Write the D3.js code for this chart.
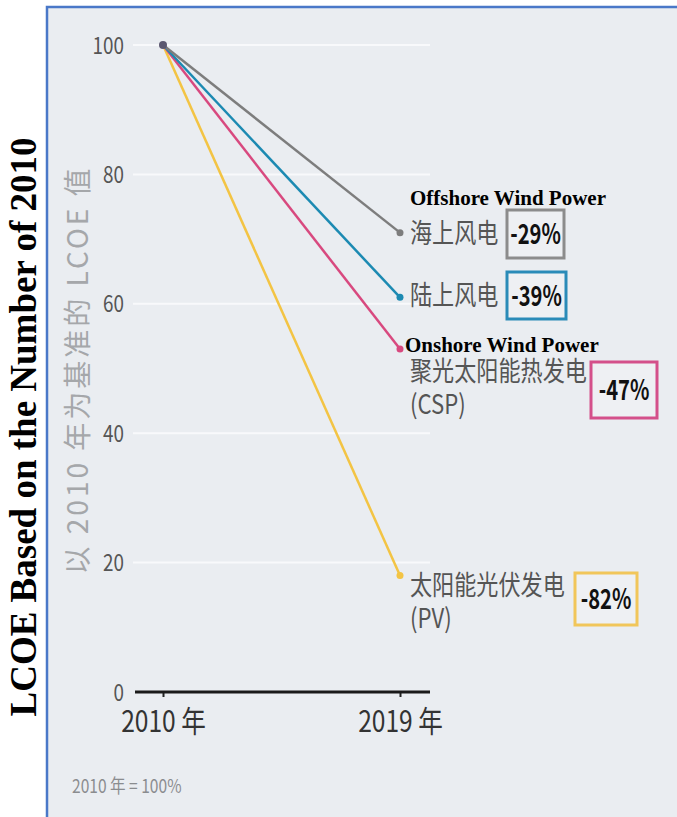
<!DOCTYPE html>
<html>
<head>
<meta charset="utf-8">
<script src="https://cdn.jsdelivr.net/npm/d3@7"></script>
<style>
  body { margin: 0; background: #fff; }
  svg { display: block; }
</style>
</head>
<body>
<svg class="chart"></svg>
<script>
// Data
const years = [2010, 2019];
const seriesNames = ["海上风电", "陆上风电", "聚光太阳能热发电", "太阳能光伏发电"];
const seriesSub = ["", "", "(CSP)", "(PV)"];
const values2010 = [100, 100, 100, 100];
const values2019 = [71, 61, 53, 18];
const changes = ["-29%", "-39%", "-47%", "-82%"];
const englishNotes = ["Offshore Wind Power", "Onshore Wind Power"];
const yTicks = [0, 20, 40, 60, 80, 100];

const lineColors = ["#7d7d7d", "#1c8ab2", "#d8497f", "#f3c444"];
const boxColors = ["#8c8c8c", "#2a8bb8", "#d4508a", "#f1c65a"];

const width = 677;
const height = 817;
const condensed = 0.82;

const svg = d3.select(".chart")
    .attr("width", width)
    .attr("height", height)
    .style("font-family", "'Noto Sans CJK SC', 'Noto Sans', sans-serif");

// Panel background with blue left/top border
svg.append("rect")
    .attr("x", 47).attr("y", 7)
    .attr("width", width - 47).attr("height", height - 7)
    .attr("fill", "#eaedf1");
svg.append("path")
    .attr("d", `M47,${height} V7 H${width}`)
    .attr("fill", "none")
    .attr("stroke", "#4a78c8")
    .attr("stroke-width", 2.5);

// Scales
const x = d3.scaleLinear().domain([2010, 2019]).range([163, 400]);
const y = d3.scaleLinear().domain([0, 100]).range([692, 45]);

// Grid lines
svg.selectAll(".grid")
    .data(yTicks.filter(d => d > 0))
    .join("line")
    .attr("class", "grid")
    .attr("x1", 133).attr("x2", 430)
    .attr("y1", d => y(d)).attr("y2", d => y(d))
    .attr("stroke", "#f8f9fb")
    .attr("stroke-width", 2);

// Y axis (labels only)
const yAxis = svg.append("g")
    .attr("transform", "translate(124,0)")
    .call(d3.axisLeft(y).tickValues(yTicks).tickSize(0).tickPadding(0));
yAxis.select(".domain").remove();
yAxis.selectAll("text")
    .attr("font-size", 23)
    .attr("font-family", "'Noto Sans CJK SC', sans-serif")
    .attr("fill", "#555")
    .attr("dy", "0.35em")
    .attr("x", 0)
    .attr("transform", `scale(${condensed},1)`);

// X axis
const xAxis = svg.append("g")
    .attr("transform", `translate(0,${y(0)})`)
    .call(d3.axisBottom(x).tickValues(years).tickSize(5).tickPadding(14).tickFormat(d => d + " 年"));
xAxis.select(".domain").remove();
xAxis.selectAll(".tick line").attr("stroke", "#222").attr("stroke-width", 2);
xAxis.selectAll("text")
    .attr("font-size", 30)
    .attr("font-family", "'Noto Sans CJK SC', sans-serif")
    .attr("fill", "#333")
    .attr("transform", `scale(${condensed},1)`);
svg.append("line")
    .attr("x1", 135).attr("x2", 430)
    .attr("y1", y(0)).attr("y2", y(0))
    .attr("stroke", "#1a1a1a")
    .attr("stroke-width", 3);

// Lines, drawn PV first so grey sits on top
const order = [3, 2, 1, 0];
const line = d3.line().x(d => x(d[0])).y(d => y(d[1]));
svg.selectAll(".series")
    .data(order)
    .join("path")
    .attr("class", "series")
    .attr("d", i => line([[years[0], values2010[i]], [years[1], values2019[i]]]))
    .attr("fill", "none")
    .attr("stroke", i => lineColors[i])
    .attr("stroke-width", 2.5);

svg.selectAll(".end-dot")
    .data(order)
    .join("circle")
    .attr("class", "end-dot")
    .attr("cx", x(years[1]))
    .attr("cy", i => y(values2019[i]))
    .attr("r", 3.5)
    .attr("fill", i => lineColors[i]);
svg.append("circle")
    .attr("cx", x(years[0])).attr("cy", y(100))
    .attr("r", 4).attr("fill", "#5b5870");

// Series labels
const labelY = [233, 295, 371, 585];
const subY = [0, 0, 404, 618];
const labelX = 410;
seriesNames.forEach((name, i) => {
    const g = svg.append("g").attr("transform", `translate(${labelX},0) scale(${condensed},1)`);
    g.append("text")
        .attr("y", labelY[i])
        .attr("dy", "0.36em")
        .attr("font-size", 27)
        .attr("fill", "#555")
        .text(name);
    if (seriesSub[i]) {
        g.append("text")
            .attr("y", subY[i])
            .attr("dy", "0.36em")
            .attr("font-size", 27)
            .attr("fill", "#555")
            .text(seriesSub[i]);
    }
});

// Percentage boxes
const boxes = [
    { x: 507, y: 210, w: 57, h: 48 },
    { x: 507, y: 272, w: 59, h: 47 },
    { x: 591, y: 362, w: 66, h: 56 },
    { x: 575, y: 573, w: 62, h: 52 }
];
boxes.forEach((b, i) => {
    svg.append("rect")
        .attr("x", b.x).attr("y", b.y)
        .attr("width", b.w).attr("height", b.h)
        .attr("fill", "#eef0f3")
        .attr("stroke", boxColors[i])
        .attr("stroke-width", 3);
    svg.append("g")
        .attr("transform", `translate(${b.x + b.w / 2},${b.y + b.h / 2}) scale(0.72,1)`)
        .append("text")
        .attr("text-anchor", "middle")
        .attr("dy", "0.36em")
        .attr("font-size", 28)
        .attr("font-weight", "bold")
        .attr("fill", "#111")
        .text(changes[i]);
});

// English annotations
[[410, 205], [405, 352]].forEach((p, i) => {
    svg.append("text")
        .attr("x", p[0]).attr("y", p[1])
        .attr("font-family", "'Liberation Serif', 'Times New Roman', serif")
        .attr("font-weight", "bold")
        .attr("font-size", 21)
        .attr("fill", "#000")
        .text(englishNotes[i]);
});

// Chinese y label
svg.append("text")
    .attr("transform", "translate(88,370) rotate(-90)")
    .attr("text-anchor", "middle")
    .attr("font-size", 28)
    .attr("letter-spacing", 3)
    .attr("fill", "#a5a7aa")
    .text("以 2010 年为基准的 LCOE 值");

// English title on the left
svg.append("text")
    .attr("transform", "translate(36,427) rotate(-90)")
    .attr("text-anchor", "middle")
    .attr("font-family", "'Liberation Serif', 'Times New Roman', serif")
    .attr("font-weight", "bold")
    .attr("font-size", 37)
    .attr("fill", "#000")
    .text("LCOE Based on the Number of 2010");

// Footnote
svg.append("g")
    .attr("transform", `translate(72,793) scale(${condensed},1)`)
    .append("text")
    .attr("font-size", 19)
    .attr("fill", "#8a8c8f")
    .text("2010 年 = 100%");
</script>
</body>
</html>
